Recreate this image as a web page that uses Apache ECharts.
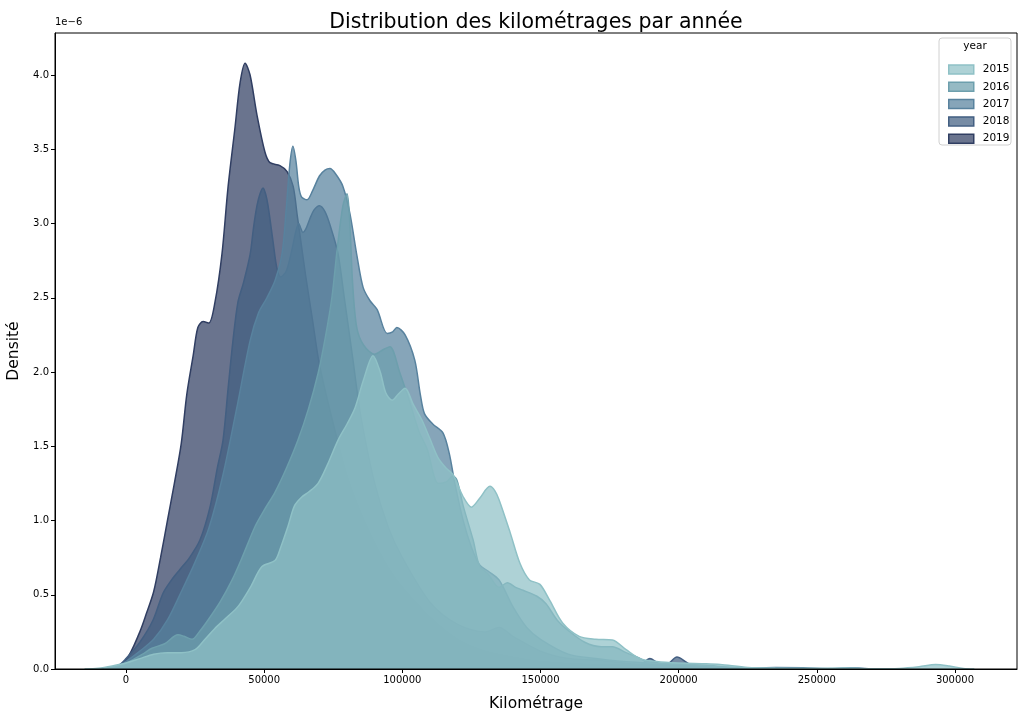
<!DOCTYPE html>
<html><head><meta charset="utf-8">
<script src="https://cdn.jsdelivr.net/npm/echarts@6/dist/echarts.min.js"></script>
<style>html,body{margin:0;padding:0;background:#fff}#c{width:1024px;height:718px}</style>
</head><body><div id="c"></div>
<script>
// Years (hue levels) and their colours
const years = ['2015', '2016', '2017', '2018', '2019'];
const baseColors = ['#8fc1c6', '#6d9fad', '#58829e', '#435f82', '#303e62'];

// Density curves, [kilométrage, densité in units of 1e-6]
const kde2015 = [[-15000,0],[-10000,0.005],[-5000,0.02],[0,0.04],[5000,0.07],[10000,0.1],[15000,0.11],[20000,0.11],[25000,0.13],[28600,0.2],[32000,0.27],[36000,0.34],[40500,0.42],[45000,0.55],[49200,0.69],[53900,0.73],[56000,0.82],[58600,0.96],[61000,1.1],[63700,1.16],[66000,1.19],[69500,1.25],[73000,1.38],[76700,1.54],[80000,1.65],[82900,1.76],[86000,1.95],[89400,2.11],[92000,2.0],[94000,1.86],[96300,1.81],[98500,1.85],[101000,1.89],[104000,1.78],[107000,1.68],[110000,1.55],[113000,1.42],[116000,1.35],[118300,1.31],[122000,1.16],[125000,1.09],[128000,1.15],[131700,1.23],[133500,1.2],[135000,1.14],[139000,0.92],[142600,0.71],[146000,0.6],[149800,0.57],[153400,0.46],[158000,0.31],[164000,0.22],[170000,0.2],[176000,0.195],[181000,0.13],[186000,0.07],[192000,0.05],[200000,0.04],[210000,0.035],[215000,0.03],[225000,0.01],[235000,0.005],[250000,0.003],[260000,0.006],[270000,0.002],[280000,0.004],[287000,0.015],[293000,0.03],[298000,0.02],[303000,0.004],[307000,0]];
const kde2016 = [[-8000,0],[-3000,0.02],[0,0.04],[2200,0.06],[6000,0.1],[9400,0.14],[14000,0.17],[18800,0.23],[21000,0.22],[23900,0.2],[26500,0.25],[29700,0.33],[34000,0.45],[38400,0.6],[42000,0.75],[46700,0.96],[50000,1.07],[53900,1.19],[58000,1.35],[62200,1.54],[66000,1.75],[69500,1.99],[72000,2.22],[74500,2.5],[76500,2.84],[78500,3.12],[80000,3.2],[81000,3.0],[82000,2.6],[83500,2.3],[86000,2.18],[90000,2.12],[93000,2.15],[95500,2.17],[99000,2.0],[102800,1.79],[106000,1.6],[109000,1.48],[113000,1.25],[116000,1.26],[118300,1.3],[119800,1.27],[122000,1.1],[125600,0.87],[128000,0.69],[131000,0.64],[135000,0.55],[138000,0.58],[141000,0.55],[143700,0.53],[148700,0.49],[152000,0.44],[156000,0.33],[160000,0.26],[166000,0.18],[172000,0.15],[176000,0.15],[181000,0.11],[185000,0.08],[190000,0.04],[200000,0.035],[210000,0.025],[220000,0.01],[240000,0.004],[260000,0.003],[280000,0]];
const kde2017 = [[-8000,0],[-3000,0.02],[0,0.05],[5000,0.12],[10000,0.2],[15000,0.33],[20000,0.52],[25000,0.72],[30000,0.95],[35000,1.3],[40000,1.75],[44900,2.21],[48000,2.4],[51000,2.5],[54000,2.62],[56500,2.8],[58000,3.1],[59300,3.4],[60400,3.52],[61500,3.42],[62500,3.25],[63500,3.18],[65500,3.16],[67500,3.22],[70000,3.32],[72000,3.36],[73800,3.37],[76000,3.33],[78500,3.25],[81000,3.07],[83600,2.78],[85800,2.57],[88300,2.48],[90900,2.42],[94500,2.26],[96500,2.27],[98000,2.3],[101000,2.25],[104500,2.08],[106500,1.85],[108000,1.72],[111000,1.65],[114700,1.59],[117000,1.45],[119000,1.25],[122000,1.0],[125000,0.82],[128000,0.7],[131000,0.66],[135000,0.6],[140000,0.42],[145000,0.28],[150000,0.2],[160000,0.1],[170000,0.07],[180000,0.05],[190000,0.04],[200000,0.03],[210000,0.015],[225000,0.005],[235000,0.01],[245000,0.008],[255000,0.002],[262000,0.008],[270000,0]];
const kde2018 = [[-8000,0],[-3000,0.02],[0,0.07],[5000,0.18],[9800,0.33],[13400,0.51],[16500,0.6],[19500,0.67],[23000,0.75],[26800,0.87],[30400,1.09],[33000,1.35],[35100,1.54],[37000,1.9],[38700,2.21],[40500,2.47],[42500,2.6],[44900,2.79],[46200,2.98],[47400,3.12],[48500,3.2],[49600,3.24],[50500,3.2],[51400,3.12],[53200,2.88],[54600,2.7],[56000,2.64],[58000,2.68],[60000,2.82],[61500,2.95],[62500,3.0],[63200,2.97],[64000,2.94],[65000,2.96],[66500,3.03],[68000,3.09],[70000,3.12],[72000,3.08],[74000,2.98],[76700,2.8],[79000,2.5],[82000,2.1],[85000,1.7],[90000,1.25],[95000,0.95],[100000,0.75],[110000,0.45],[120000,0.3],[130000,0.25],[135000,0.28],[140000,0.22],[150000,0.12],[160000,0.07],[170000,0.06],[180000,0.04],[186000,0.03],[189600,0.07],[192500,0.04],[195500,0.03],[199400,0.08],[202500,0.05],[206000,0.01],[215000,0]];
const kde2019 = [[-10000,0],[-5000,0.01],[0,0.06],[5000,0.25],[7500,0.38],[10000,0.52],[12500,0.75],[15000,1.0],[17500,1.25],[20000,1.52],[22000,1.85],[24300,2.11],[26000,2.3],[27900,2.34],[30000,2.33],[32200,2.47],[34700,2.79],[36900,3.24],[39400,3.64],[41300,3.95],[43100,4.08],[44900,4.0],[47400,3.73],[50300,3.48],[52100,3.41],[55700,3.39],[58300,3.35],[60500,3.25],[62000,3.05],[63500,2.85],[65000,2.65],[67500,2.35],[70000,2.05],[75000,1.65],[80000,1.3],[85000,1.05],[90000,0.85],[95000,0.68],[100000,0.55],[110000,0.35],[120000,0.2],[130000,0.12],[140000,0.08],[150000,0.05],[170000,0.03],[185000,0.03],[195000,0.03],[205000,0.02],[215000,0.005],[230000,0]];
const curves = [kde2015, kde2016, kde2017, kde2018, kde2019];

const fillAlpha = 0.72;
function rgba(hex, a) {
  const n = parseInt(hex.slice(1), 16);
  return 'rgba(' + ((n >> 16) & 255) + ',' + ((n >> 8) & 255) + ',' + (n & 255) + ',' + a + ')';
}

const font = 'DejaVu Sans';
// seaborn draws the last hue level first; each layer (fill + edge) above the previous
const order = [4, 3, 2, 1, 0];
const series = order.map((i, k) => ({
  name: years[i],
  type: 'line',
  z: 2 + k,
  data: curves[i],
  smooth: 0.3,
  showSymbol: false,
  symbol: 'none',
  lineStyle: { color: baseColors[i], width: 1.5 },
  itemStyle: { color: baseColors[i] },
  areaStyle: { color: rgba(baseColors[i], fillAlpha), opacity: 1 },
  emphasis: { disabled: true },
  silent: true
}));

const chart = echarts.init(document.getElementById('c'), null, { renderer: 'canvas' });
chart.setOption({
  animation: false,
  backgroundColor: '#fff',
  title: {
    text: 'Distribution des kilométrages par année',
    left: 531, top: 7, textAlign: 'center',
    textStyle: { fontFamily: font, fontSize: 20.5, fontWeight: 'normal', color: '#000' }
  },
  grid: {
    left: 55, right: 7, top: 33, bottom: 49,
    containLabel: false, outerBoundsMode: 'none',
    show: true, borderColor: '#000', borderWidth: 1, backgroundColor: 'transparent', z: 20
  },
  legend: {
    orient: 'vertical', left: 943, top: 58.5,
    itemWidth: 25, itemHeight: 9, itemGap: 5.3, icon: 'rect',
    textStyle: { fontFamily: font, fontSize: 10.5, color: '#000', lineHeight: 12, padding: [0, 0, 0, 4] },
    data: years.map((y, i) => ({
      name: y,
      itemStyle: { color: rgba(baseColors[i], fillAlpha), borderColor: baseColors[i], borderWidth: 1.5 }
    })),
    selectedMode: false, z: 31
  },
  xAxis: {
    type: 'value', min: -25700, max: 322450, splitNumber: 7,
    name: 'Kilométrage', nameLocation: 'middle', nameGap: 27,
    nameTextStyle: { fontFamily: font, fontSize: 15.5, color: '#000' },
    axisLine: { show: true, onZero: false, lineStyle: { color: '#000', width: 1 } },
    axisTick: { show: true, length: 4, lineStyle: { color: '#000' } },
    axisLabel: {
      fontFamily: font, fontSize: 10, color: '#000', margin: 6,
      showMinLabel: false, showMaxLabel: false,
      formatter: v => (Math.abs(v % 50000) < 1e-6 ? String(v) : '')
    },
    splitLine: { show: false }, z: 20
  },
  yAxis: {
    type: 'value', min: 0, max: 4.283, splitNumber: 9,
    name: 'Densité', nameLocation: 'middle', nameGap: 30, nameRotate: 90,
    nameTextStyle: { fontFamily: font, fontSize: 15.5, color: '#000' },
    axisLine: { show: true, onZero: false, lineStyle: { color: '#000', width: 1 } },
    axisTick: { show: true, length: 4, lineStyle: { color: '#000' } },
    axisLabel: {
      fontFamily: font, fontSize: 10, color: '#000', margin: 6,
      showMaxLabel: false,
      formatter: v => (Math.abs(v / 0.5 - Math.round(v / 0.5)) < 1e-6 ? v.toFixed(1) : '')
    },
    splitLine: { show: false }, z: 20
  },
  graphic: [
    { type: 'text', left: 55, top: 17, z: 40,
      style: { text: '1e\u22126', font: '10px "DejaVu Sans"', fill: '#000' } },
    { type: 'rect', z: 30, shape: { x: 939, y: 38, width: 72, height: 107, r: 3 },
      style: { fill: 'rgba(255,255,255,0.8)', stroke: '#d0d0d0', lineWidth: 1 } },
    { type: 'text', z: 32, x: 975, y: 46,
      style: { text: 'year', font: '10.5px "DejaVu Sans"', fill: '#000', align: 'center', verticalAlign: 'middle' } }
  ],
  series: series
});
</script>
</body></html>
